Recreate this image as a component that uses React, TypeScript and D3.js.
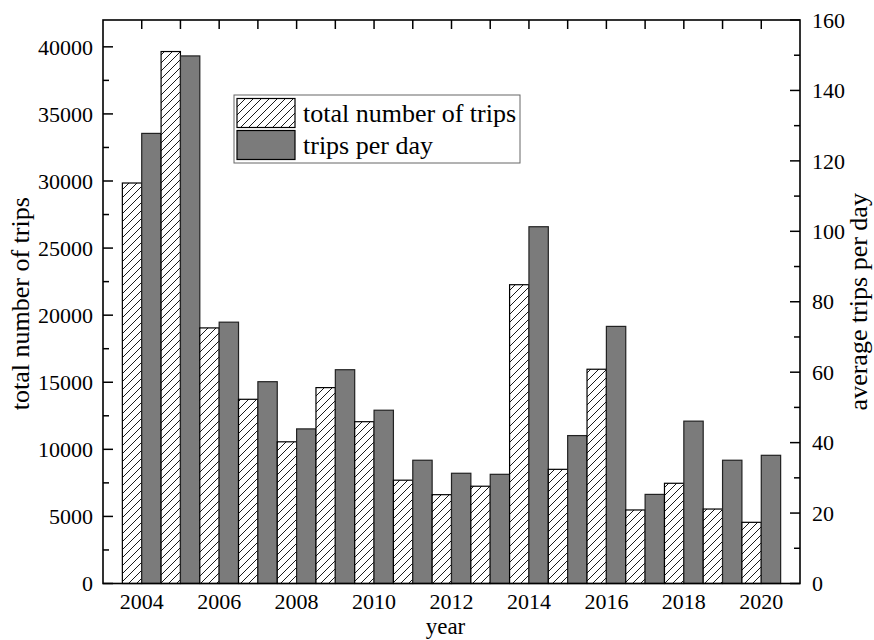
import React from "react";
import * as d3 from "d3";

const years = [2004, 2005, 2006, 2007, 2008, 2009, 2010, 2011, 2012, 2013, 2014, 2015, 2016, 2017, 2018, 2019, 2020];
const totalTrips = [29850, 39650, 19050, 13730, 10560, 14600, 12060, 7700, 6620, 7250, 22270, 8510, 15970, 5480, 7470, 5550, 4560];
const tripsPerDay = [127.8, 149.8, 74.2, 57.3, 43.9, 60.7, 49.2, 35.0, 31.3, 31.0, 101.3, 42.0, 73.0, 25.3, 46.1, 35.0, 36.4];
const leftTicks = [0, 5000, 10000, 15000, 20000, 25000, 30000, 35000, 40000];
const rightTicks = [0, 20, 40, 60, 80, 100, 120, 140, 160];
const xTickLabels = [2004, 2006, 2008, 2010, 2012, 2014, 2016, 2018, 2020];
const seriesNames = ["total number of trips", "trips per day"];

const W = 874;
const H = 640;
const L = 103, R = 800, T = 20, B = 583.5;
const FONT = "'Liberation Serif', 'Times New Roman', serif";
const GRAY = "#7b7b7b";

export default function App() {
  const x = d3.scaleLinear().domain([2003, 2021]).range([L, R]);
  const yL = d3.scaleLinear().domain([0, 42000]).range([B, T]);
  const yR = d3.scaleLinear().domain([0, 160]).range([B, T]);
  const bw = (x(2004) - x(2003)) / 2;

  const leftMinor = d3.range(2500, 42000, 5000);
  const rightMinor = d3.range(10, 160, 20);

  return (
    <svg width={W} height={H} style={{ position: "absolute", left: 0, top: 0, background: "#fff" }} fontFamily={FONT}>
      <defs>
        <pattern id="hatch" patternUnits="userSpaceOnUse" width={8} height={8}>
          <rect width={8} height={8} fill="#fff" />
          <path d="M0,8 L8,0 M-2,2 L2,-2 M6,10 L10,6" stroke="#000" strokeWidth={0.9} />
        </pattern>
      </defs>

      {/* year ticks along top and bottom, pointing inward */}
      {years.map((yr) => (
        <g key={"xt" + yr}>
          <line x1={x(yr)} x2={x(yr)} y1={T} y2={T + 9} stroke="#000" strokeWidth={1.5} />
          <line x1={x(yr)} x2={x(yr)} y1={B} y2={B - 9} stroke="#000" strokeWidth={1.5} />
        </g>
      ))}

      {/* bars: hatched total trips (left axis), gray trips per day (right axis) */}
      {years.map((yr, i) => (
        <g key={"b" + yr}>
          <rect x={x(yr) - bw} y={yL(totalTrips[i])} width={bw} height={B - yL(totalTrips[i])}
            fill="url(#hatch)" stroke="#000" strokeWidth={1.2} />
          <rect x={x(yr)} y={yR(tripsPerDay[i])} width={bw} height={B - yR(tripsPerDay[i])}
            fill={GRAY} stroke="#222" strokeWidth={1.2} />
        </g>
      ))}

      {/* left axis ticks */}
      {leftTicks.map((v) => (
        <g key={"lt" + v}>
          <line x1={L} x2={L + 10} y1={yL(v)} y2={yL(v)} stroke="#000" strokeWidth={1.5} />
          <text x={L - 10} y={yL(v)} dy="0.35em" textAnchor="end" fontSize={22}>{v}</text>
        </g>
      ))}
      {leftMinor.map((v) => (
        <line key={"lm" + v} x1={L} x2={L + 6} y1={yL(v)} y2={yL(v)} stroke="#000" strokeWidth={1.5} />
      ))}

      {/* right axis ticks */}
      {rightTicks.map((v) => (
        <g key={"rt" + v}>
          <line x1={R} x2={R - 10} y1={yR(v)} y2={yR(v)} stroke="#000" strokeWidth={1.5} />
          <text x={R + 12} y={yR(v)} dy="0.35em" textAnchor="start" fontSize={22}>{v}</text>
        </g>
      ))}
      {rightMinor.map((v) => (
        <line key={"rm" + v} x1={R} x2={R - 6} y1={yR(v)} y2={yR(v)} stroke="#000" strokeWidth={1.5} />
      ))}

      {/* x tick labels */}
      {xTickLabels.map((yr) => (
        <text key={"xl" + yr} x={x(yr)} y={608.5} textAnchor="middle" fontSize={22}>{yr}</text>
      ))}

      {/* frame */}
      <rect x={L} y={T} width={R - L} height={B - T} fill="none" stroke="#000" strokeWidth={1.6} />

      {/* axis titles */}
      <text x={(L + R) / 2 - 6} y={634} textAnchor="middle" fontSize={23}>year</text>
      <text transform={`translate(29, ${(T + B) / 2 + 2}) rotate(-90)`} textAnchor="middle" fontSize={26}>total number of trips</text>
      <text transform={`translate(867, ${(T + B) / 2}) rotate(-90)`} textAnchor="middle" fontSize={26}>average trips per day</text>

      {/* legend */}
      <g>
        <rect x={234} y={95} width={286} height={68} fill="#fff" stroke="#666" strokeWidth={1} />
        <rect x={237} y={98.5} width={58} height={29} fill="url(#hatch)" stroke="#000" strokeWidth={1.2} />
        <rect x={237} y={130.5} width={58} height={29} fill={GRAY} stroke="#000" strokeWidth={1.2} />
        <text x={303} y={122} fontSize={26}>{seriesNames[0]}</text>
        <text x={303} y={154} fontSize={26}>{seriesNames[1]}</text>
      </g>
    </svg>
  );
}
